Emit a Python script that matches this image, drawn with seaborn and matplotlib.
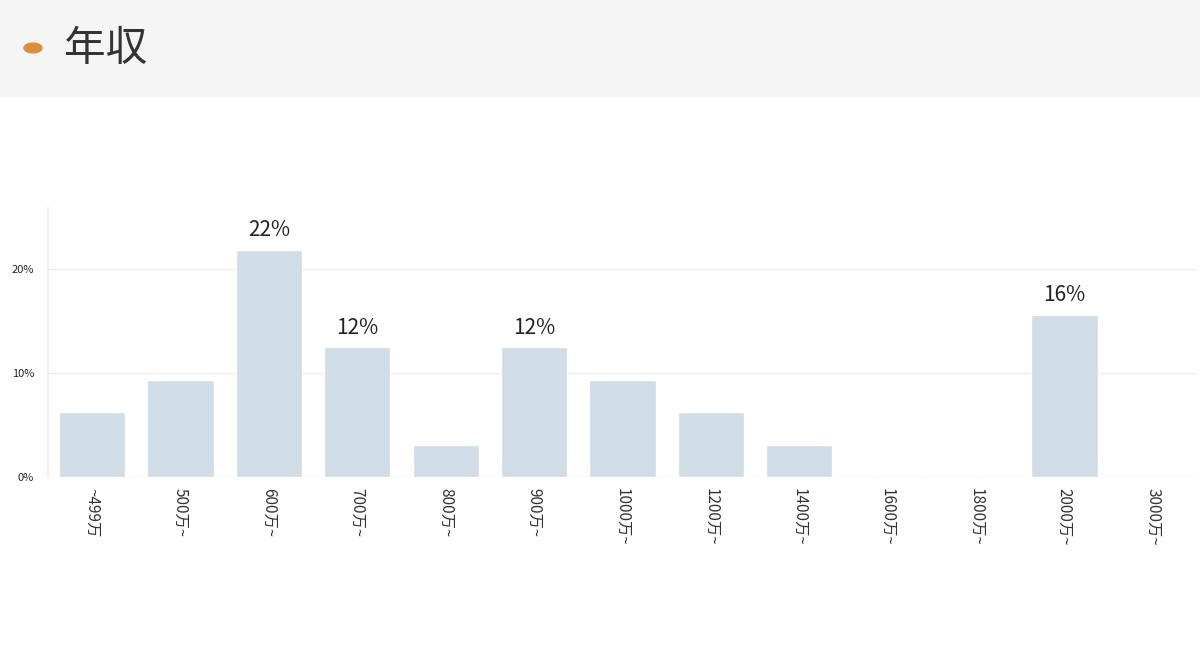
import matplotlib.pyplot as plt
import seaborn as sns
import pandas as pd
from matplotlib.patches import Rectangle

categories = ['~499万', '500万~', '600万~', '700万~', '800万~', '900万~', '1000万~',
              '1200万~', '1400万~', '1600万~', '1800万~', '2000万~', '3000万~']
values = [6.25, 9.375, 21.875, 12.5, 3.125, 12.5, 9.375, 6.25, 3.125, 0, 0, 15.625, 0]
labeled = ['600万~', '700万~', '900万~', '2000万~']

df = pd.DataFrame({'cat': categories, 'val': values})

sns.set_theme(style='white')
plt.rcParams['font.family'] = ['Noto Sans CJK JP', 'DejaVu Sans']

fig = plt.figure(figsize=(12, 6.54), dpi=100)
fig.patches.append(Rectangle((0, 1 - 96 / 654), 1, 96 / 654, transform=fig.transFigure,
                             color='#f5f5f5', zorder=0))
fig.patches.append(plt.Circle((33 / 1200, 1 - 48 / 654), 0.0075, transform=fig.transFigure,
                              color='#e08a3c', zorder=1))
fig.text(64 / 1200, 1 - 50 / 654, '年収', fontsize=30, va='center', color='#333333')

ax = fig.add_axes([48 / 1200, 1 - 477 / 654, 1149 / 1200, 269 / 654])
sns.barplot(data=df, x='cat', y='val', color='#d0dce6', saturation=1, width=0.75, ax=ax)
ax.set_ylim(0, 25.9)
ax.set_yticks([0, 10, 20])
ax.set_yticklabels(['0%', '10%', '20%'], fontsize=8)
ax.yaxis.grid(True, color='#eeeeee')
ax.set_axisbelow(True)
for s in ['top', 'right', 'bottom']:
    ax.spines[s].set_visible(False)
ax.spines['left'].set_color('#eeeeee')
ax.axhline(0, color='#dddddd', lw=0.8, ls=':')
ax.tick_params(axis='y', length=0, pad=10)
ax.tick_params(axis='x', length=0, pad=8)
ax.set_xticks(range(len(categories)))
ax.set_xticklabels(categories, rotation=270, fontsize=11, color='#333333')
ax.set_xlabel('')
ax.set_ylabel('')
for i, (c, v) in enumerate(zip(categories, values)):
    if c in labeled:
        ax.text(i, v + 0.8, f'{round(v)}%', ha='center', va='bottom', fontsize=15, color='#222222')

fig.savefig('out.png', dpi=100)
